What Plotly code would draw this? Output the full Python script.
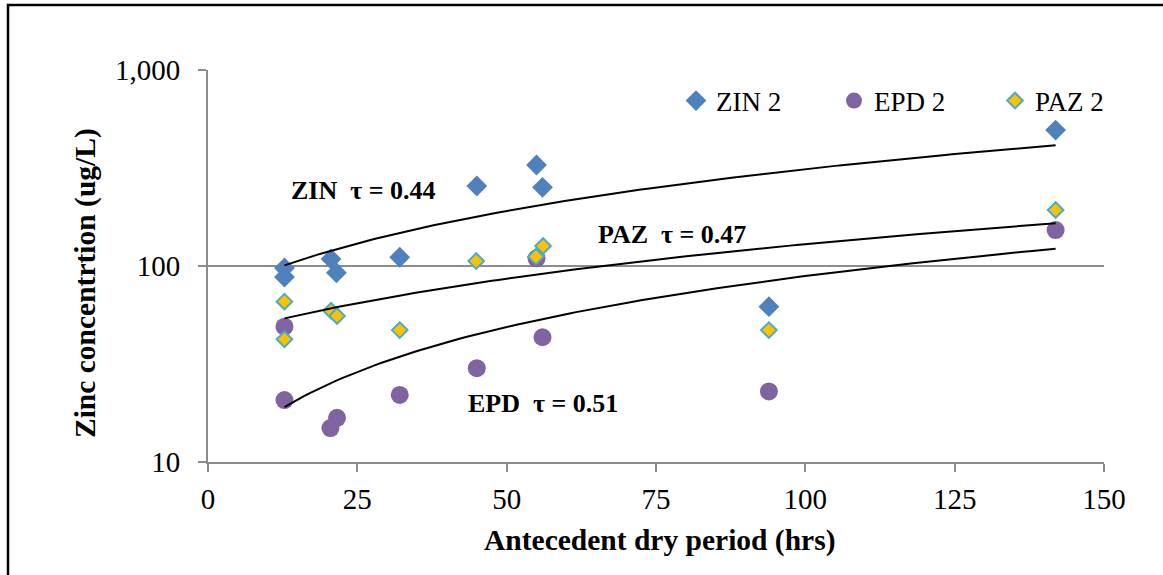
import numpy as np
import plotly.graph_objects as go

# ---- data ----
zin_x = [12.8, 12.8, 20.6, 21.5, 32.1, 45.0, 55.0, 56.0, 93.9, 141.9]
zin_y = [97.7, 87.9, 108.6, 92.4, 110.8, 255.9, 327.5, 252.0, 62.0, 494.0]

epd_x = [12.8, 12.8, 21.6, 20.5, 32.1, 45.0, 56.0, 55.0, 93.9, 141.9]
epd_y = [49.0, 20.7, 16.8, 14.9, 22.0, 30.1, 43.3, 109.5, 22.9, 152.6]

paz_x = [12.8, 12.8, 20.6, 21.6, 32.1, 44.9, 54.9, 56.1, 93.9, 141.9]
paz_y = [65.8, 42.3, 59.1, 55.6, 47.1, 106.0, 111.6, 126.5, 47.1, 193.0]

series_names = ["ZIN 2", "EPD 2", "PAZ 2"]
trend_labels = ["ZIN  τ = 0.44", "PAZ  τ = 0.47", "EPD  τ = 0.51"]
x_title = "Antecedent dry period (hrs)"
y_title = "Zinc concentrtion (ug/L)"
x_ticks = [0, 25, 50, 75, 100, 125, 150]
y_ticks = [10, 100, 1000]
y_ticktext = ["10", "100", "1,000"]

FONT = "Liberation Serif"
W, H = 1163, 575
L, R, T, B = 208, 59, 70, 113
PW, PH = W - L - R, H - T - B


def px2paper(px, py):
    return (px - L) / PW, (H - B - py) / PH


fig = go.Figure()

fig.add_trace(go.Scatter(
    x=zin_x, y=zin_y, mode="markers", name=series_names[0], legend="legend",
    marker=dict(symbol="diamond", size=16, color="#4F81BD", line=dict(width=0))))
fig.add_trace(go.Scatter(
    x=epd_x, y=epd_y, mode="markers", name=series_names[1], legend="legend2",
    marker=dict(symbol="circle", size=18, color="#8064A2", line=dict(width=0))))
fig.add_trace(go.Scatter(
    x=paz_x, y=paz_y, mode="markers", name=series_names[2], legend="legend3",
    marker=dict(symbol="diamond", size=12, color="#FFC000",
                line=dict(width=2, color="#4BACC6"))))

# linear least-squares trendlines (drawn on log axis -> curved)
for xs, ys in [(zin_x, zin_y), (paz_x, paz_y), (epd_x, epd_y)]:
    k, c = np.polyfit(xs, ys, 1)
    tx = np.linspace(min(xs), max(xs), 120)
    fig.add_trace(go.Scatter(x=tx, y=k * tx + c, mode="lines", showlegend=False,
                             line=dict(color="black", width=2), hoverinfo="skip"))

# annotations
ann_pos = [(363, 190), (672, 234), (543, 403)]
for txt, (ax_, ay_) in zip(trend_labels, ann_pos):
    px_, py_ = px2paper(ax_, ay_)
    fig.add_annotation(x=px_, y=py_, xref="paper", yref="paper",
                       text="<b>" + txt.replace("  ", "\u00a0 ") + "</b>",
                       showarrow=False, font=dict(family=FONT, size=26, color="black"),
                       xanchor="center", yanchor="middle")

# axis titles as annotations (placed like the reference)
xt = px2paper(660, 540)
fig.add_annotation(x=xt[0], y=xt[1], xref="paper", yref="paper",
                   text="<b>" + x_title + "</b>", showarrow=False,
                   font=dict(family=FONT, size=29.5, color="black"),
                   xanchor="center", yanchor="middle")
yt = px2paper(85, 283)
fig.add_annotation(x=yt[0], y=yt[1], xref="paper", yref="paper",
                   text="<b>" + y_title + "</b>", showarrow=False, textangle=-90,
                   font=dict(family=FONT, size=29.5, color="black"),
                   xanchor="center", yanchor="middle")

# outer frame (right/bottom edges off-canvas)
fx0, fy1 = px2paper(8, 5)
fx1, fy0 = px2paper(W + 10, H + 10)
fig.add_shape(type="rect", xref="paper", yref="paper", x0=fx0, y0=fy0, x1=fx1, y1=fy1,
              line=dict(color="black", width=2.5), layer="below")

leg_y = px2paper(0, 101)[1]
leg_common = dict(orientation="h", yanchor="middle", xanchor="left", y=leg_y,
                  font=dict(family=FONT, size=27, color="black"),
                  bgcolor="rgba(0,0,0,0)", borderwidth=0, itemwidth=30)

fig.update_layout(
    width=W, height=H,
    margin=dict(l=L, r=R, t=T, b=B),
    paper_bgcolor="white", plot_bgcolor="white",
    font=dict(family=FONT, size=27, color="black"),
    legend=dict(x=px2paper(676, 0)[0], **leg_common),
    legend2=dict(x=px2paper(834, 0)[0], **leg_common),
    legend3=dict(x=px2paper(995, 0)[0], **leg_common),
    xaxis=dict(range=[0, 150], tickvals=x_ticks, showgrid=False, zeroline=False,
               showline=True, linecolor="#8C8C8C", linewidth=2,
               ticks="outside", ticklen=8, tickcolor="#8C8C8C", tickwidth=1.5,
               tickfont=dict(family=FONT, size=29, color="black"),
               ticklabelstandoff=2),
    yaxis=dict(type="log", range=[1, 3], tickvals=y_ticks, ticktext=y_ticktext,
               showgrid=True, gridcolor="#8C8C8C", gridwidth=1.5, zeroline=False,
               showline=True, linecolor="#8C8C8C", linewidth=2,
               ticks="outside", ticklen=8, tickcolor="#8C8C8C", tickwidth=1.5,
               tickfont=dict(family=FONT, size=29, color="black"),
               ticklabelstandoff=12),
)

fig.write_html("out.html")
